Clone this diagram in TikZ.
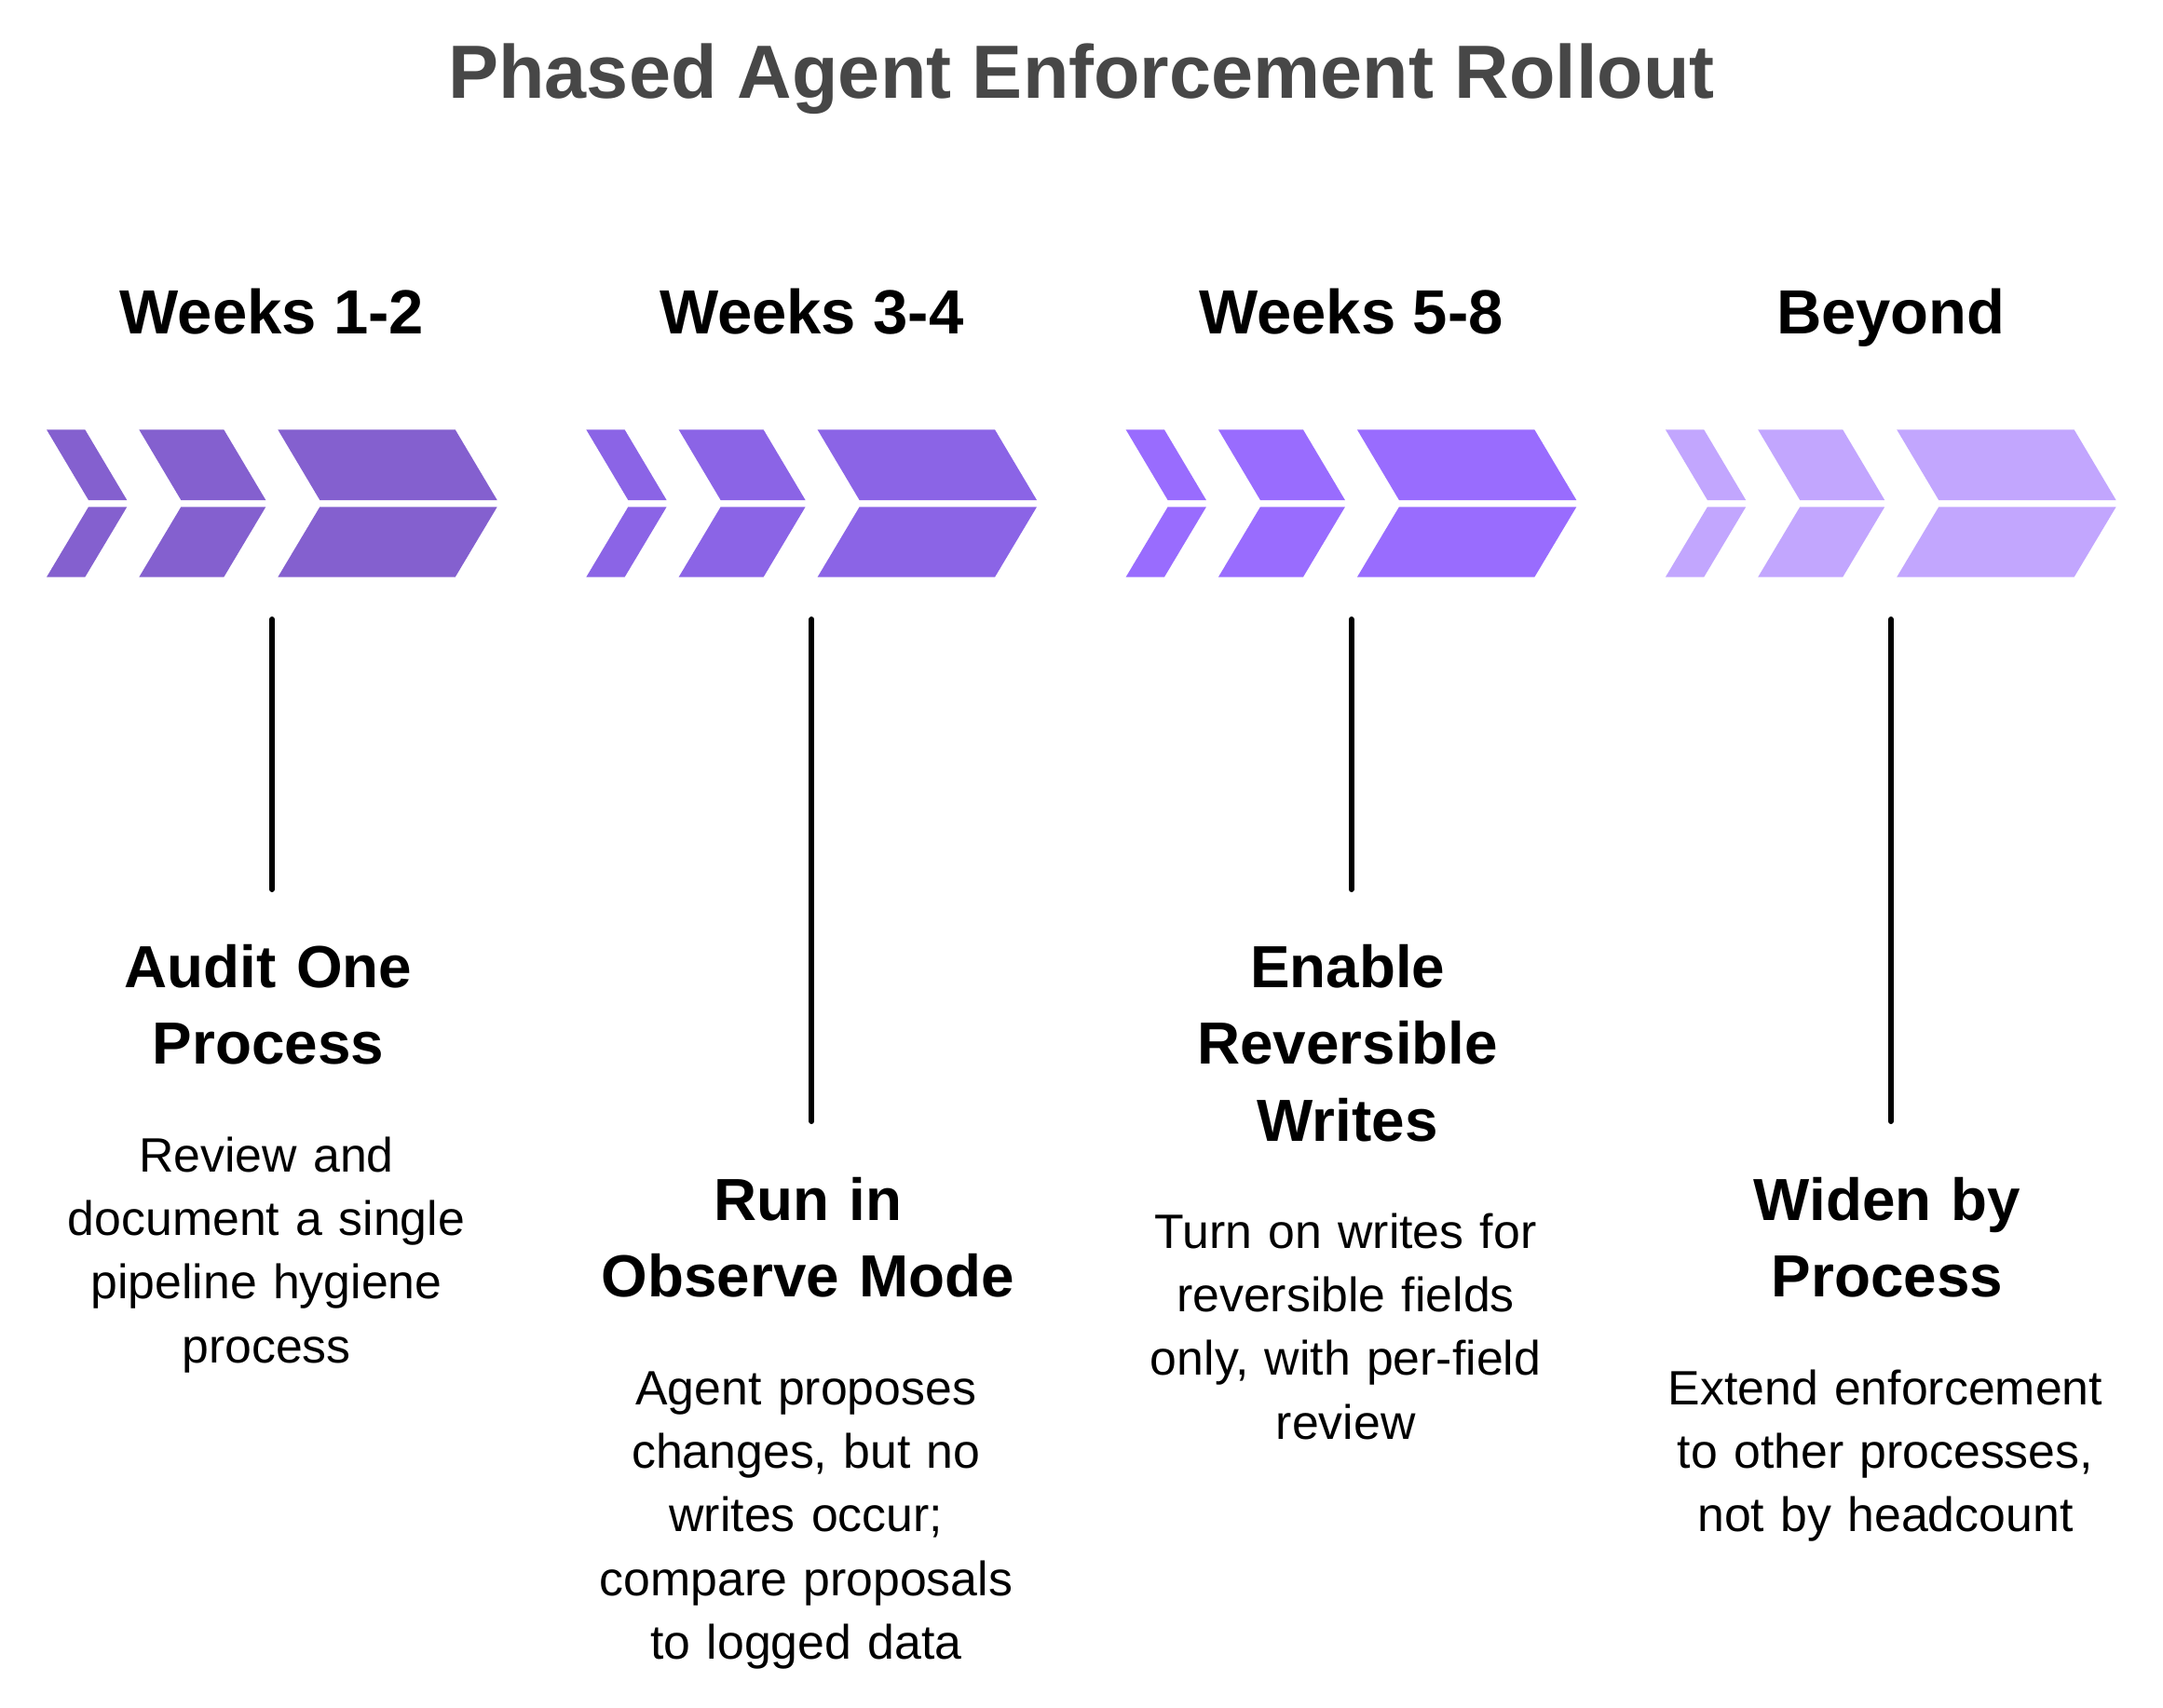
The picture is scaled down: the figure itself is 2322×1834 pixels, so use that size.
\documentclass[tikz,border=0pt]{standalone}
\usepackage{fontspec}
\setmainfont{Liberation Sans}
\definecolor{cA}{HTML}{8460CF}
\definecolor{cB}{HTML}{8B64E6}
\definecolor{cC}{HTML}{996CFE}
\definecolor{cD}{HTML}{C2A6FE}
\definecolor{ttlgray}{HTML}{474747}
\begin{document}
\begin{tikzpicture}[x=1pt,y=-1pt,
  maintitle/.style={font=\fontsize{81}{98}\selectfont\bfseries, text=ttlgray, anchor=base, inner sep=0pt},
  hdr/.style={font=\fontsize{67}{82}\selectfont\bfseries, anchor=base, inner sep=0pt},
  ttl/.style={font=\fontsize{63.8}{82.5}\selectfont\bfseries, text width=800pt, align=center, anchor=base, inner sep=0pt},
  desc/.style={font=\fontsize{51.8}{68.2}\selectfont, text width=800pt, align=center, anchor=base, inner sep=0pt},
  stem/.style={draw=black, line width=6pt, line cap=round}]
\fill[white] (0,0) rectangle (2322,1834);
\useasboundingbox (0,0) rectangle (2322,1834);

\node[maintitle] (title) at (1161,105.5) {Phased Agent Enforcement Rollout};

% chevrons
\foreach \k/\col in {0/cA,1/cB,2/cC,3/cD}{
  \pgfmathsetmacro\o{579.3*\k}
  \foreach \a/\w in {50/41.3,149.3/91,298.3/190.4}{
    \fill[\col] ({\o+\a},461.3) -- ({\o+\a+\w},461.3) -- ({\o+\a+\w+45},537) -- ({\o+\a+45},537) -- cycle;
    \fill[\col] ({\o+\a+45},544.3) -- ({\o+\a+\w+45},544.3) -- ({\o+\a+\w},619.7) -- ({\o+\a},619.7) -- cycle;
  }
}

% headers
\node[hdr] (h1) at (292,358) {Weeks 1-2};
\node[hdr] (h2) at (871.3,358) {Weeks 3-4};
\node[hdr] (h3) at (1450.6,358) {Weeks 5-8};
\node[hdr] (h4) at (2029.9,358) {Beyond};

% stems
\coordinate (s1t) at (292,665); \coordinate (s1b) at (292,955);
\coordinate (s2t) at (871.3,665); \coordinate (s2b) at (871.3,1204);
\coordinate (s3t) at (1450.6,665); \coordinate (s3b) at (1450.6,955);
\coordinate (s4t) at (2029.9,665); \coordinate (s4b) at (2029.9,1204);
\draw[stem] (s1t) -- (s1b);
\draw[stem] (s2t) -- (s2b);
\draw[stem] (s3t) -- (s3b);
\draw[stem] (s4t) -- (s4b);

% stage titles
\node[ttl] (t1) at (288,1060) {Audit One\\Process};
\node[ttl] (t2) at (867.3,1310) {Run in\\Observe Mode};
\node[ttl] (t3) at (1446.6,1060) {Enable\\Reversible\\Writes};
\node[ttl] (t4) at (2025.9,1310) {Widen by\\Process};

% descriptions
\node[desc] (d1) at (286,1258.5) {Review and\\document a single\\pipeline hygiene\\process};
\node[desc] (d2) at (865.3,1508.5) {Agent proposes\\changes, but no\\writes occur;\\compare proposals\\to logged data};
\node[desc] (d3) at (1444.6,1340.5) {Turn on writes for\\reversible fields\\only, with per-field\\review};
\node[desc] (d4) at (2023.9,1508.5) {Extend enforcement\\to other processes,\\not by headcount};
\end{tikzpicture}
\end{document}
